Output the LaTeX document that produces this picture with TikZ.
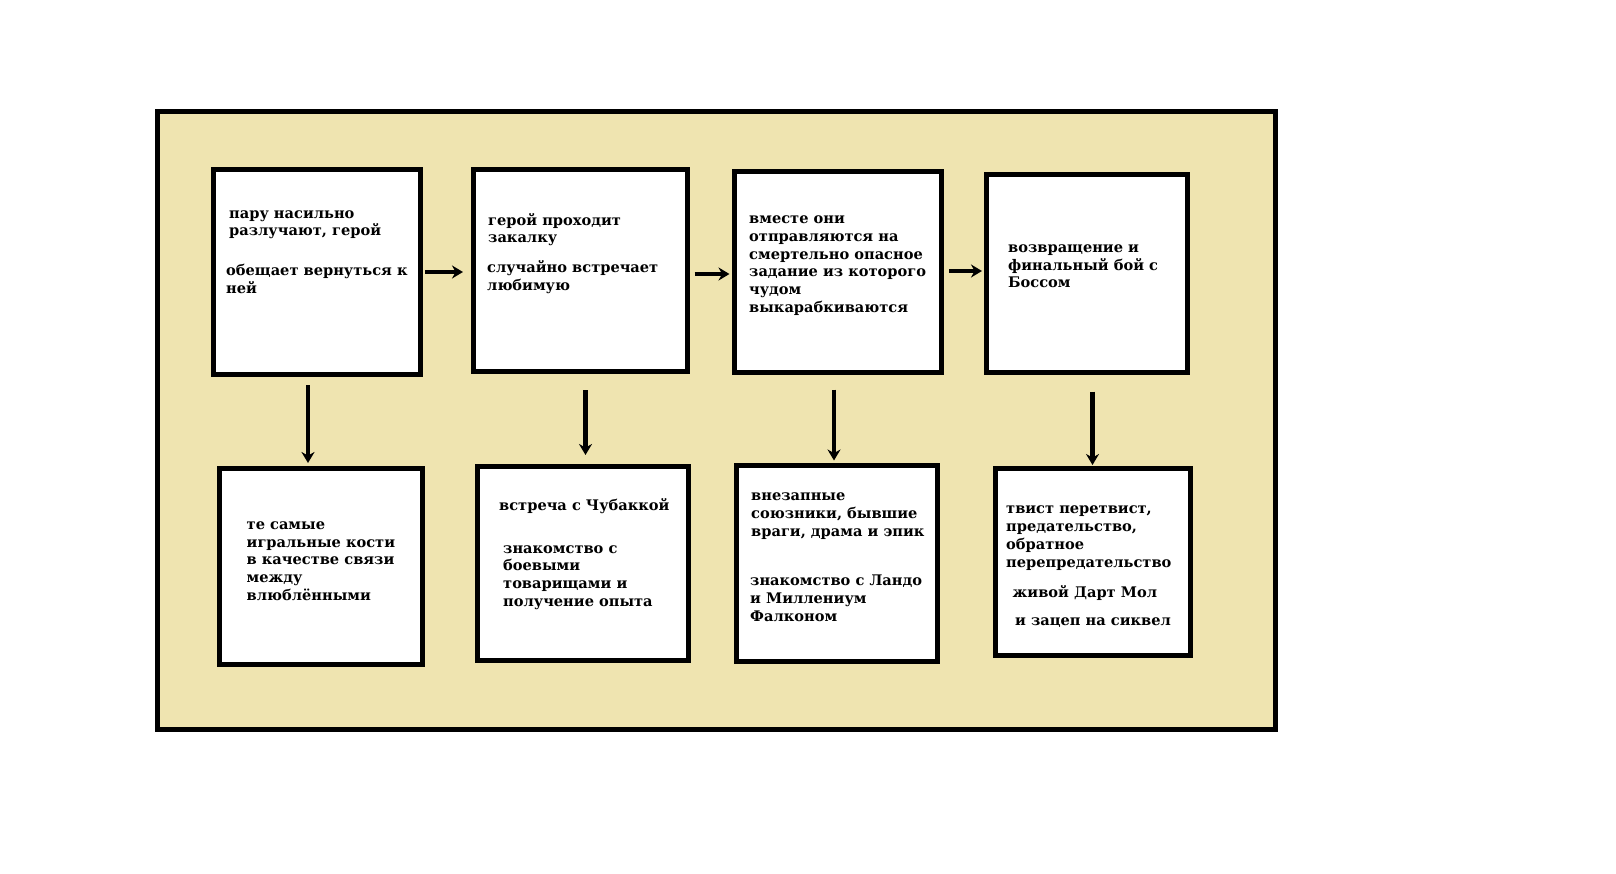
\documentclass[tikz,border=0pt]{standalone}
\usepackage{fontspec}
\setmainfont{DejaVu Serif}
\usepackage{tikz}
\usetikzlibrary{positioning,arrows.meta}
\definecolor{paper}{HTML}{EFE4B0}

\begin{document}
\begin{tikzpicture}[x=1pt, y=-1pt,
    box/.style={draw, line width=5pt, fill=white, inner sep=0pt},
    txt/.style={anchor=base west, inner sep=0pt, align=left, font=\fontsize{14.6}{17.8}\selectfont\bfseries},
    flow/.style={line width=4.5pt, -{Stealth[length=11pt, width=13pt]}}]
    \useasboundingbox (0,0) rectangle (1616,874);
    \draw[line width=5pt, fill=paper] (157.5,111.5) rectangle (1275,729);

    \node[box, minimum width=207pt, minimum height=205pt] (b1) at (317,272) {};
    \node[box, minimum width=214pt, minimum height=202pt] (b2) at (580.5,270.5) {};
    \node[box, minimum width=207pt, minimum height=201pt] (b3) at (838,272) {};
    \node[box, minimum width=201pt, minimum height=198pt] (b4) at (1087,273.5) {};
    \node[box, minimum width=203pt, minimum height=196pt] (b5) at (321,566.5) {};
    \node[box, minimum width=211pt, minimum height=194pt] (b6) at (583,563.5) {};
    \node[box, minimum width=201pt, minimum height=196pt] (b7) at (837,563.5) {};
    \node[box, minimum width=195pt, minimum height=187pt] (b8) at (1093,562) {};

    \node[txt] (t1a) at (229,236) {пару насильно\\разлучают, герой};
    \node[txt] (t1b) at (226,293.5) {обещает вернуться к\\ней};
    \node[txt] (t2a) at (488,243) {герой проходит\\закалку};
    \node[txt] (t2b) at (487,290.5) {случайно встречает\\любимую};
    \node[txt] (t3) at (749,312.5) {вместе они\\отправляются на\\смертельно опасное\\задание из которого\\чудом\\выкарабкиваются};
    \node[txt] (t4) at (1008,288) {возвращение и\\финальный бой с\\Боссом};
    \node[txt] (t5) at (246.5,600.5) {те самые\\игральные кости\\в качестве связи\\между\\влюблёнными};
    \node[txt] (t6a) at (499,510) {встреча с Чубаккой};
    \node[txt] (t6b) at (503,606.5) {знакомство с\\боевыми\\товарищами и\\получение опыта};
    \node[txt] (t7a) at (751,536.5) {внезапные\\союзники, бывшие\\враги, драма и эпик};
    \node[txt] (t7b) at (750,621.5) {знакомство с Ландо\\и Миллениум\\Фалконом};
    \node[txt] (t8a) at (1006,567) {твист перетвист,\\предательство,\\обратное\\перепредательство};
    \node[txt] (t8b) at (1012.5,597) {живой Дарт Мол};
    \node[txt] (t8c) at (1015,625) {и зацеп на сиквел};

    \draw[flow, shorten <=2pt, shorten >=8pt] (b1.east) -- (b1.east -| b2.west);
    \draw[flow, shorten <=4.5pt, shorten >=2.5pt] ([yshift=-3.5pt]b2.east) -- ([yshift=-3.5pt]b2.east -| b3.west);
    \draw[flow, shorten <=5pt, shorten >=2pt] ([yshift=1pt]b3.east) -- ([yshift=1pt]b3.east -| b4.west);
    \draw[flow, shorten <=8pt, shorten >=3pt] ([xshift=-9pt]b1.south) -- ([xshift=-9pt]b1.south |- b5.north);
    \draw[flow, shorten <=16pt, shorten >=9pt] ([xshift=5pt]b2.south) -- ([xshift=5pt]b2.south |- b6.north);
    \draw[flow, shorten <=14.5pt, shorten >=2.5pt] ([xshift=-4pt]b3.south) -- ([xshift=-4pt]b3.south |- b7.north);
    \draw[flow, shorten <=16.5pt, shorten >=1pt] ([xshift=5.5pt]b4.south) -- ([xshift=5.5pt]b4.south |- b8.north);
\end{tikzpicture}
\end{document}
